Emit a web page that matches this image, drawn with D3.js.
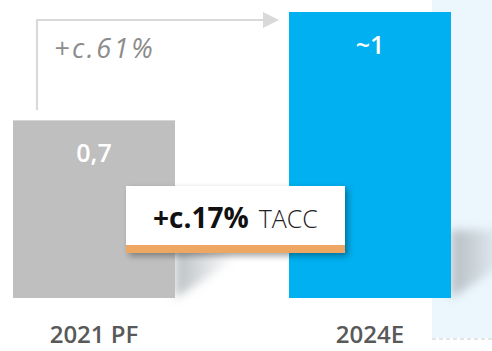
<!DOCTYPE html>
<html><head><meta charset="utf-8">
<script src="https://cdn.jsdelivr.net/npm/d3@7"></script>
<style>html,body{margin:0;padding:0;background:#fff;}svg{display:block;}</style>
</head><body>
<svg id="chart" width="492" height="351"></svg>
<script>
const categories = ["2021 PF", "2024E"];
const values = [0.7, 1.127];
const valueLabels = ["0,7", "~1"];
const growthLabel = "+c.61%";
const cagrBold = "+c.17%";
const cagrText = "TACC";
const colors = ["#bfbfbf", "#00b0f0"];

const svg = d3.select("#chart");
const font = "'Open Sans', 'Noto Sans', sans-serif";

const x = d3.scaleBand().domain(categories).range([13, 451]).paddingInner(0.413).paddingOuter(0);
const y = d3.scaleLinear().domain([0, d3.max(values)]).range([298, 12]);

const defs = svg.append("defs");
const blur = defs.append("filter").attr("id", "blur").attr("x", "-50%").attr("y", "-50%").attr("width", "200%").attr("height", "200%");
blur.append("feGaussianBlur").attr("stdDeviation", 5);
const ds = defs.append("filter").attr("id", "ds").attr("x", "-20%").attr("y", "-20%").attr("width", "140%").attr("height", "160%");
ds.append("feDropShadow").attr("dx", 3).attr("dy", 3).attr("stdDeviation", 3).attr("flood-color", "#000").attr("flood-opacity", 0.35);
const g = defs.append("linearGradient").attr("id", "sh").attr("x1", 0).attr("y1", 0).attr("x2", 1).attr("y2", 0);
g.append("stop").attr("offset", 0).attr("stop-color", "#a9b0b4").attr("stop-opacity", 0.8);
g.append("stop").attr("offset", 1).attr("stop-color", "#a9b0b4").attr("stop-opacity", 0.0);

// light blue side panel
svg.append("rect").attr("x", 432).attr("y", 0).attr("width", 60).attr("height", 338).attr("fill", "#ebf6fd");
svg.append("line").attr("x1", 432).attr("x2", 492).attr("y1", 339).attr("y2", 339)
  .attr("stroke", "#c8ccd0").attr("stroke-width", 1).attr("stroke-dasharray", "4,3");

// shadows
svg.selectAll("path.shadow").data(categories).join("path").attr("class", "shadow")
  .attr("d", d => {
    const r = x(d) + x.bandwidth(), b = y(0);
    return `M${r},${b - 68} L${r + 60},${b - 68} L${r + 60},${b - 40} Q${r + 25},${b - 15} ${r},${b} Z`;
  })
  .attr("fill", "url(#sh)").attr("filter", "url(#blur)");

// bars
svg.selectAll("rect.bar").data(values).join("rect").attr("class", "bar")
  .attr("x", (d, i) => x(categories[i])).attr("width", x.bandwidth())
  .attr("y", d => y(d)).attr("height", d => y(0) - y(d))
  .attr("fill", (d, i) => colors[i]);

// value labels
svg.selectAll("text.val").data(values).join("text").attr("class", "val")
  .attr("x", (d, i) => x(categories[i]) + x.bandwidth() / 2)
  .attr("y", d => y(d) + 42)
  .attr("text-anchor", "middle").attr("fill", "#fff")
  .attr("font-family", font).attr("font-size", 25).attr("font-weight", 600)
  .text((d, i) => valueLabels[i]);

// category labels
svg.selectAll("text.cat").data(categories).join("text").attr("class", "cat")
  .attr("x", d => x(d) + x.bandwidth() / 2).attr("y", 343)
  .attr("text-anchor", "middle").attr("fill", "#595959")
  .attr("font-family", font).attr("font-size", 24).attr("font-weight", 600)
  .text(d => d);

// growth arrow
const ax = 37, ay = 20, ay0 = y(values[0]) - 10, ax1 = x(categories[1]) - 10;
svg.append("path").attr("d", `M${ax},${ay0} L${ax},${ay} L${ax1 - 14},${ay}`)
  .attr("fill", "none").attr("stroke", "#d9d9d9").attr("stroke-width", 2.2);
svg.append("path").attr("d", `M${ax1 - 16},${ay - 8} L${ax1},${ay} L${ax1 - 16},${ay + 8} Z`).attr("fill", "#d9d9d9");
svg.append("text").attr("x", 54).attr("y", 58).attr("fill", "#8c8c8c")
  .attr("font-family", font).attr("font-size", 27).attr("font-style", "italic").attr("letter-spacing", 2.6)
  .text(growthLabel);

// CAGR box
const bx = 126, by = 186, bw = 219, bh = 59;
svg.append("rect").attr("x", bx).attr("y", by).attr("width", bw).attr("height", bh + 8).attr("fill", "#fff").attr("filter", "url(#ds)");
svg.append("rect").attr("x", bx).attr("y", by).attr("width", bw).attr("height", bh).attr("fill", "#fff");
svg.append("rect").attr("x", bx).attr("y", by + bh).attr("width", bw).attr("height", 8).attr("fill", "#eda762");
const t = svg.append("text").attr("x", bx + bw / 2).attr("y", 228).attr("text-anchor", "middle")
  .attr("font-family", font).attr("fill", "#111");
t.append("tspan").attr("font-size", 28).attr("font-weight", 700).text(cagrBold);
t.append("tspan").attr("font-size", 25).attr("font-weight", 300).attr("fill", "#222").attr("dx", 10).text(cagrText);
</script>
</body></html>
